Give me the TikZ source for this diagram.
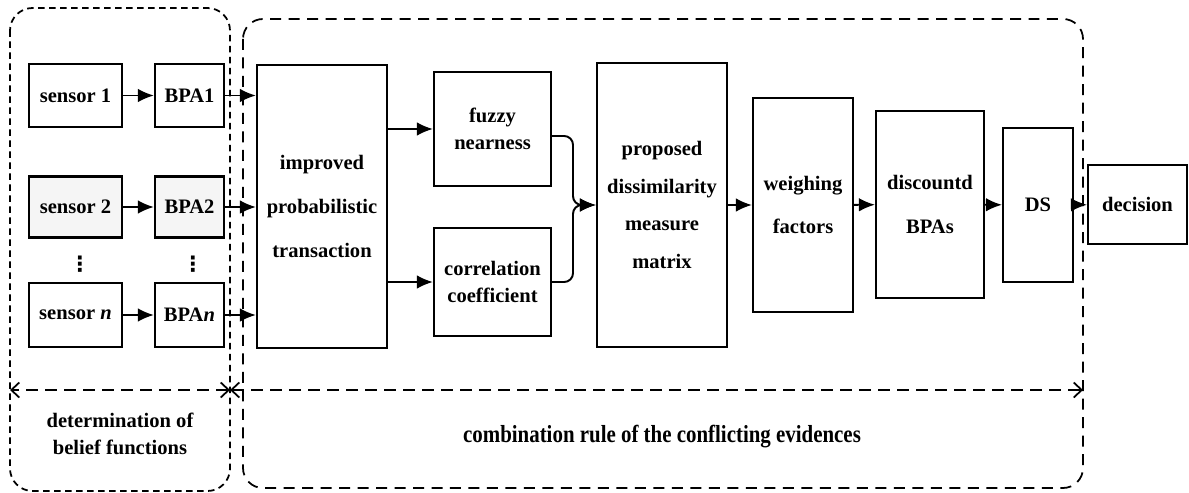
\documentclass[tikz,border=0pt]{standalone}
\usepackage{fontspec}
\setmainfont{Liberation Serif}
\newfontfamily\condfont[FakeStretch=0.85]{Liberation Serif}
\newfontfamily\symfont{DejaVu Sans}
\usetikzlibrary{arrows.meta,positioning}

\begin{document}
\begin{tikzpicture}[x=0.02cm,y=-0.02cm,->,>={Latex[length=3.2mm,width=2.7mm]},
  line width=1.1pt]
  \tikzstyle{every node}=[font=\fontsize{11.7}{15}\selectfont\bfseries]
  \tikzstyle{blk}=[draw,rectangle,align=center,inner sep=1pt,line width=1.2pt]
  \tikzstyle{wide}=[font=\fontsize{11.7}{25}\selectfont\bfseries]
  \tikzstyle{shade}=[fill=black!4]
  \tikzstyle{lbox}=[-,draw,line width=1pt,dash pattern=on 1.3mm off 0.9mm,rounded corners=0.45cm]
  \tikzstyle{rbox}=[-,draw,line width=1pt,dash pattern=on 2.2mm off 1.5mm,rounded corners=0.4cm]
  \tikzstyle{span}=[{Straight Barb[length=1.6mm,width=3mm]}-{Straight Barb[length=1.6mm,width=3mm]},
    line width=1pt,dash pattern=on 2.4mm off 1.4mm]

  \useasboundingbox (0,0) rectangle (1189,493);

  % the two stages
  \draw[lbox] (10,8) rectangle (230,491);
  \draw[rbox] (243,19) rectangle (1083,488);

  \node[blk, minimum width=1.86cm, minimum height=1.26cm] (S1) at (75.5,95.5) {sensor 1};
  \node[blk, minimum width=1.38cm, minimum height=1.26cm] (B1) at (189.5,95.5) {BPA1};
  \node[blk, shade, minimum width=1.86cm, minimum height=1.22cm] (S2) at (75.5,207) {sensor 2};
  \node[blk, shade, minimum width=1.38cm, minimum height=1.22cm] (B2) at (189.5,207) {BPA2};
  \node[blk, minimum width=1.86cm, minimum height=1.28cm] (Sn) at (75.5,315) {sensor \textit{n}};
  \node[blk, minimum width=1.38cm, minimum height=1.28cm] (Bn) at (189.5,315) {BPA\textit{n}};
  \node[font=\fontsize{12}{14}\selectfont\symfont\bfseries] (D1) at (80,264) {⋮};
  \node[font=\fontsize{12}{14}\selectfont\symfont\bfseries] (D2) at (193,264) {⋮};

  \node[blk, wide, minimum width=2.6cm, minimum height=5.66cm] (IPT) at (322,206.5)
    {improved\\probabilistic\\transaction};
  \node[blk, minimum width=2.34cm, minimum height=2.28cm] (FN) at (492.5,129)
    {fuzzy\\nearness};
  \node[blk, minimum width=2.34cm, minimum height=2.16cm] (CC) at (492.5,282)
    {correlation\\coefficient};
  \node[blk, font=\fontsize{11.7}{21.5}\selectfont\bfseries, minimum width=2.6cm,
    minimum height=5.68cm] (PDM) at (662,205)
    {proposed\\dissimilarity\\measure\\matrix};
  \node[blk, wide, minimum width=2cm, minimum height=4.28cm] (WF) at (803,205)
    {weighing\\factors};
  \node[blk, wide, minimum width=2.16cm, minimum height=3.74cm] (DB) at (930,204.5)
    {discountd\\BPAs};
  \node[blk, minimum width=1.4cm, minimum height=3.08cm] (DS) at (1038,205) {DS};
  \node[blk, minimum width=1.98cm, minimum height=1.58cm] (DEC) at (1137.5,204.5) {decision};

  \coordinate (M) at (573,205);
  \coordinate (HL) at (10,390);
  \coordinate (HM) at (230,390);
  \coordinate (HR) at (1083,390);

  \path
  (S1) edge (B1)
  (S2) edge (B2)
  (Sn) edge (Bn)
  (B1) edge (B1 -| IPT.west)
  (B2) edge (B2 -| IPT.west)
  (Bn) edge (Bn -| IPT.west)
  (IPT.east |- FN) edge (FN)
  (IPT.east |- CC) edge (CC)
  (PDM) edge (WF)
  (WF) edge (DB)
  (DB) edge (DS)
  (DS) edge (DEC)
  ;
  \draw[rounded corners=5pt] ([yshift=-0.14cm]FN.east) -| (M) -- (PDM.west);
  \draw[rounded corners=5pt] (CC.east) -| (M) -- (PDM.west);

  \draw[span] (HM) -- (HL);
  \draw[span] (HM) -- (HR);

  \node[align=center] (DBF) at (120,434) {determination of\\belief functions};
  \node[font=\fontsize{14}{16}\selectfont\condfont\bfseries] (CRE) at (662,437)
    {combination rule of the conflicting evidences};
\end{tikzpicture}
\end{document}
